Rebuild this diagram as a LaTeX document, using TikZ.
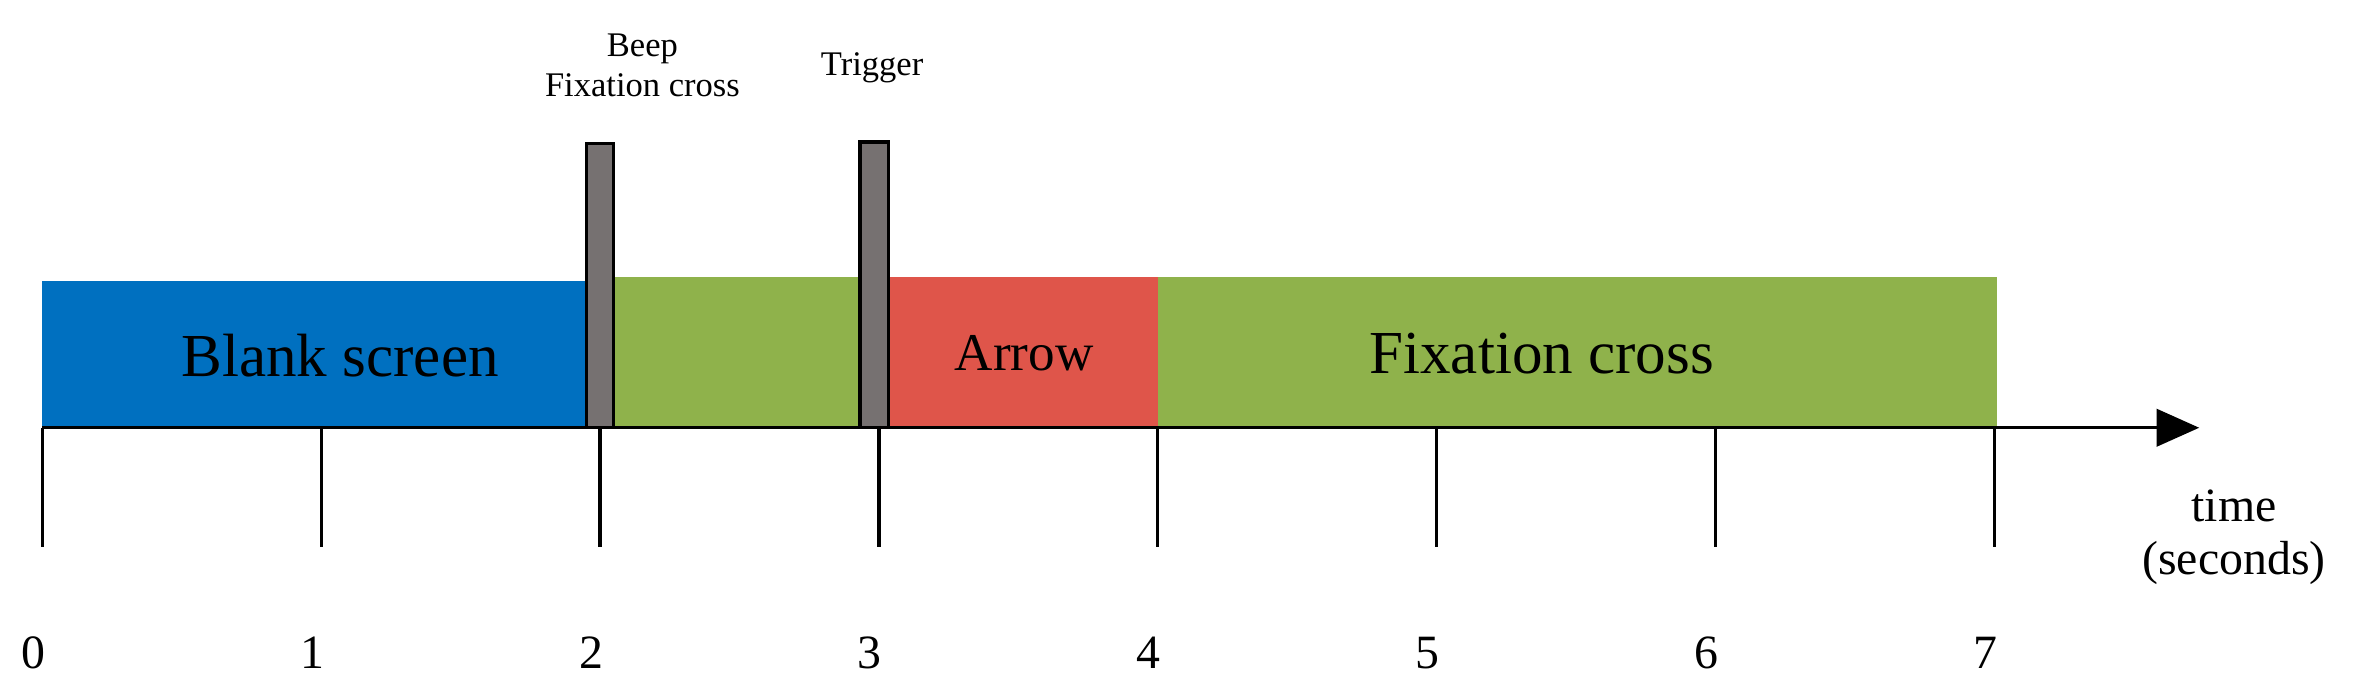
\documentclass[tikz,border=0pt]{standalone}
\usepackage{fontspec}
\setmainfont{Liberation Serif}
\usetikzlibrary{arrows.meta}

\definecolor{blankblue}{HTML}{0070C0}
\definecolor{fixgreen}{HTML}{8FB24B}
\definecolor{arrowred}{HTML}{DF554A}
\definecolor{bargray}{HTML}{767171}

\tikzset{
  phase/.style = {draw = none},
  marker/.style = {fill = bargray, draw = black, line width = 1.2pt},
  big/.style = {font = \fontsize{23}{26}\selectfont},
  num/.style = {font = \fontsize{18}{20}\selectfont},
  small/.style = {font = \fontsize{13}{15}\selectfont, align = center}
}

\begin{document}
\begin{tikzpicture}
  \useasboundingbox (0, 0) rectangle (31.36, 9.06);

  % phases
  \fill[blankblue] (0.56, 3.4) rectangle (7.76, 5.34);
  \fill[fixgreen] (8.12, 3.4) rectangle (11.38, 5.4);
  \fill[arrowred] (11.76, 3.4) rectangle (15.32, 5.4);
  \fill[fixgreen] (15.32, 3.4) rectangle (26.42, 5.4);

  \node[big] (blank) at (4.5, 4.35) {Blank screen};
  \node[num, font = \fontsize{20}{22}\selectfont] (arrow) at (13.55, 4.38) {Arrow};
  \node[big] (fix) at (20.4, 4.38) {Fixation cross};

  % markers
  \filldraw[marker] (7.76, 3.4) rectangle (8.12, 7.16);
  \filldraw[marker] (11.38, 3.4) rectangle (11.76, 7.18);

  \node[small] (beep) at (8.5, 8.2) {Beep\\Fixation cross};
  \node[small] (trigger) at (11.54, 8.16) {Trigger};

  % axis
  \coordinate (start) at (0.56, 3.4);
  \coordinate (end) at (29.1, 3.4);
  \draw[line width = 1.2pt, -{Triangle[length = 16pt, width = 14pt]}] (start) -- (end);

  \foreach \i in {0, ..., 7} {
    \coordinate (t\i) at (0.56 + 3.69*\i, 3.4);
    \draw[line width = 1.2pt] (t\i) -- ++(0, -1.58);
    \node[num] (n\i) at (0.56 + 3.69*\i - 0.12, 0.42) {\i};
  }

  \node[num, align = center] (time) at (29.56, 1.95) {time\\(seconds)};
\end{tikzpicture}
\end{document}
